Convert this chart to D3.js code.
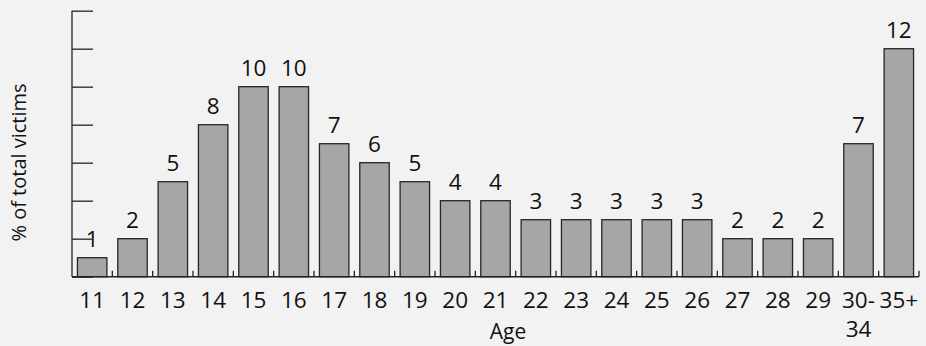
<!DOCTYPE html>
<html>
<head>
<meta charset="utf-8">
<script src="https://cdn.jsdelivr.net/npm/d3@7"></script>
<style>
  html, body { margin: 0; padding: 0; background: #f2f2f2; }
  svg { display: block; }
  text { font-family: "Open Sans", "Noto Sans", sans-serif; fill: #111; }
</style>
</head>
<body>
<svg id="chart" width="926" height="346"></svg>
<script>
// Age groups and share of victims (%)
const categories = ["11","12","13","14","15","16","17","18","19","20","21","22","23","24","25","26","27","28","29","30-34","35+"];
const tickLabels = [["11"],["12"],["13"],["14"],["15"],["16"],["17"],["18"],["19"],["20"],["21"],["22"],["23"],["24"],["25"],["26"],["27"],["28"],["29"],["30-","34"],["35+"]];
const values = [1,2,5,8,10,10,7,6,5,4,4,3,3,3,3,3,2,2,2,7,12];
const yTicks = [0,2,4,6,8,10,12,14];

const svg = d3.select("#chart");
const plotLeft = 72, plotRight = 919, plotTop = 10.7, plotBottom = 276.7;

const x = d3.scaleBand().domain(categories).range([plotLeft, plotRight]).padding(0);
const y = d3.scaleLinear().domain([0, 14]).range([plotBottom, plotTop]);
const barW = x.bandwidth() * 0.73;

// bars
svg.append("g").selectAll("rect")
  .data(categories)
  .join("rect")
  .attr("x", (d) => x(d) + (x.bandwidth() - barW) / 2)
  .attr("y", (d, i) => y(values[i]))
  .attr("width", barW)
  .attr("height", (d, i) => plotBottom - y(values[i]))
  .attr("fill", "#a6a6a6")
  .attr("stroke", "#262626")
  .attr("stroke-width", 1.3);

// value labels
svg.append("g").selectAll("text")
  .data(categories)
  .join("text")
  .attr("x", (d) => x(d) + x.bandwidth() / 2)
  .attr("y", (d, i) => y(values[i]) - 10.5)
  .attr("text-anchor", "middle")
  .attr("font-size", 22.5)
  .text((d, i) => values[i]);

// y axis: ticks point inward, no labels
const yAxis = d3.axisRight(y).tickValues(yTicks).tickSize(21).tickFormat("");
const gy = svg.append("g").attr("transform", `translate(${plotLeft},0)`).call(yAxis);
gy.select(".domain").remove();
gy.selectAll(".tick line").attr("stroke", "#333").attr("stroke-width", 1.4);
gy.append("line").attr("x1", 0).attr("x2", 0).attr("y1", plotTop).attr("y2", plotBottom)
  .attr("stroke", "#333").attr("stroke-width", 1.4);

// x axis baseline with short separators between bands
const gx = svg.append("g");
gx.append("line").attr("x1", plotLeft).attr("x2", plotRight).attr("y1", plotBottom).attr("y2", plotBottom)
  .attr("stroke", "#222").attr("stroke-width", 1.5);
gx.selectAll("line.sep")
  .data(categories)
  .join("line")
  .attr("class", "sep")
  .attr("x1", (d) => x(d) + x.bandwidth())
  .attr("x2", (d) => x(d) + x.bandwidth())
  .attr("y1", plotBottom)
  .attr("y2", plotBottom - 6)
  .attr("stroke", "#222").attr("stroke-width", 1.3);

// category labels
const lab = gx.selectAll("text.cat")
  .data(categories)
  .join("text")
  .attr("class", "cat")
  .attr("text-anchor", "middle")
  .attr("font-size", 22.5)
  .attr("y", 308);
lab.each(function (d, i) {
  const t = d3.select(this);
  tickLabels[i].forEach((s, k) => {
    t.append("tspan")
      .attr("x", x(d) + x.bandwidth() / 2)
      .attr("dy", k === 0 ? 0 : 29)
      .text(s);
  });
});

// axis titles
svg.append("text")
  .attr("x", 508).attr("y", 339)
  .attr("text-anchor", "middle")
  .attr("font-size", 21)
  .text("Age");

svg.append("text")
  .attr("transform", "translate(26,162.5) rotate(-90)")
  .attr("text-anchor", "middle")
  .attr("font-size", 20)
  .text("% of total victims");
</script>
</body>
</html>
